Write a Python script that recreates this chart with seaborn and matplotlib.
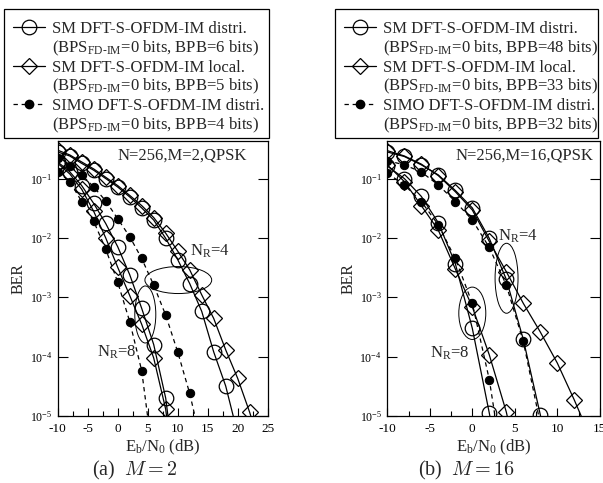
import numpy as np
import pandas as pd
import matplotlib
matplotlib.use("Agg")
import matplotlib.pyplot as plt
import seaborn as sns
from matplotlib.lines import Line2D
from matplotlib.patches import Ellipse, Rectangle
from matplotlib.ticker import MultipleLocator, NullLocator, LogLocator

# ---------------- data (M = 2) ----------------
a_nr4_distri_x = [-10, -8, -6, -4, -2, 0, 2, 4, 6, 8, 10, 12, 14, 16, 18, 20]
a_nr4_distri_y = [2.8e-1, 2.4e-1, 1.8e-1, 1.38e-1, 1.0e-1, 7.2e-2, 4.9e-2, 3.2e-2, 2.0e-2,
                  9.8e-3, 4.3e-3, 1.7e-3, 5.8e-4, 1.2e-4, 3.2e-5, 5.0e-6]
a_nr4_local_x = [-10, -8, -6, -4, -2, 0, 2, 4, 6, 8, 10, 12, 14, 16, 18, 20, 22, 24]
a_nr4_local_y = [3.0e-1, 2.5e-1, 1.9e-1, 1.45e-1, 1.05e-1, 7.6e-2, 5.2e-2, 3.5e-2, 2.2e-2,
                 1.2e-2, 6.0e-3, 2.9e-3, 1.1e-3, 4.4e-4, 1.3e-4, 4.3e-5, 1.15e-5, 2.5e-6]
a_nr4_simo_x = [-10, -8, -6, -4, -2, 0, 2, 4, 6, 8, 10, 12, 14]
a_nr4_simo_y = [2.2e-1, 1.6e-1, 1.15e-1, 7.2e-2, 4.2e-2, 2.1e-2, 1.05e-2, 4.5e-3, 1.6e-3,
                5.0e-4, 1.2e-4, 2.4e-5, 3.2e-6]
a_nr8_distri_x = [-10, -8, -6, -4, -2, 0, 2, 4, 6, 8, 10]
a_nr8_distri_y = [1.9e-1, 1.3e-1, 7.6e-2, 3.8e-2, 1.75e-2, 7.1e-3, 2.4e-3, 6.5e-4, 1.6e-4,
                  2.0e-5, 5.0e-7]
a_nr8_local_x = [-10, -8, -6, -4, -2, 0, 2, 4, 6, 8, 10]
a_nr8_local_y = [1.8e-1, 1.2e-1, 6.6e-2, 2.8e-2, 1.0e-2, 3.2e-3, 1.07e-3, 3.5e-4, 9.5e-5,
                 1.3e-5, 3.0e-7]
a_nr8_simo_x = [-10, -8, -6, -4, -2, 0, 2, 4, 6]
a_nr8_simo_y = [1.3e-1, 8.9e-2, 4.1e-2, 1.9e-2, 6.5e-3, 1.8e-3, 3.9e-4, 5.8e-5, 1.6e-6]

# ---------------- data (M = 16) ----------------
b_nr4_distri_x = [-10, -8, -6, -4, -2, 0, 2, 4, 6, 8, 10]
b_nr4_distri_y = [2.8e-1, 2.35e-1, 1.7e-1, 1.15e-1, 6.3e-2, 3.2e-2, 9.8e-3, 2.0e-3, 1.95e-4,
                  1.05e-5, 3.0e-7]
b_nr4_local_x = [-10, -8, -6, -4, -2, 0, 2, 4, 6, 8, 10, 12, 14]
b_nr4_local_y = [2.95e-1, 2.4e-1, 1.75e-1, 1.12e-1, 6.0e-2, 2.95e-2, 8.7e-3, 2.7e-3, 7.9e-4,
                 2.6e-4, 7.8e-5, 1.86e-5, 4.0e-6]
b_nr4_simo_x = [-10, -8, -6, -4, -2, 0, 2, 4, 6, 8]
b_nr4_simo_y = [2.0e-1, 1.7e-1, 1.29e-1, 7.8e-2, 4.1e-2, 2.0e-2, 6.9e-3, 1.6e-3, 1.8e-4, 7.4e-6]
b_nr8_distri_x = [-10, -8, -6, -4, -2, 0, 2, 4]
b_nr8_distri_y = [1.62e-1, 1.0e-1, 5.0e-2, 1.8e-2, 3.7e-3, 3.0e-4, 1.12e-5, 3.0e-7]
b_nr8_local_x = [-10, -8, -6, -4, -2, 0, 2, 4, 6]
b_nr8_local_y = [1.7e-1, 8.9e-2, 3.5e-2, 1.35e-2, 3.0e-3, 6.9e-4, 1.07e-4, 1.17e-5, 6.0e-7]
b_nr8_simo_x = [-10, -8, -6, -4, -2, 0, 2, 4]
b_nr8_simo_y = [1.23e-1, 7.8e-2, 4.1e-2, 1.66e-2, 4.5e-3, 7.9e-4, 4.1e-5, 6.0e-7]

legend_a = ["SM DFT-S-OFDM-IM distri.", "(BPS$_{\\text{FD-IM}}$=0 bits, BPB=6 bits)",
            "SM DFT-S-OFDM-IM local.", "(BPS$_{\\text{FD-IM}}$=0 bits, BPB=5 bits)",
            "SIMO DFT-S-OFDM-IM distri.", "(BPS$_{\\text{FD-IM}}$=0 bits, BPB=4 bits)"]
legend_b = ["SM DFT-S-OFDM-IM distri.", "(BPS$_{\\text{FD-IM}}$=0 bits, BPB=48 bits)",
            "SM DFT-S-OFDM-IM local.", "(BPS$_{\\text{FD-IM}}$=0 bits, BPB=33 bits)",
            "SIMO DFT-S-OFDM-IM distri.", "(BPS$_{\\text{FD-IM}}$=0 bits, BPB=32 bits)"]

# ---------------- style ----------------
sns.set_style("ticks")
plt.rcParams.update({
    "font.family": ["Liberation Serif", "DejaVu Serif"],
    "mathtext.fontset": "custom",
    "mathtext.rm": "Liberation Serif",
    "mathtext.it": "Liberation Serif:italic",
    "mathtext.bf": "Liberation Serif:bold",
    "axes.unicode_minus": False,
    "axes.edgecolor": "black",
    "axes.linewidth": 0.9,
    "xtick.color": "black",
    "ytick.color": "black",
})

fig = plt.figure(figsize=(6.03, 4.83), dpi=100)
W, H = 603.0, 483.0
ax_a = fig.add_axes([57.7 / W, (H - 416) / H, 210 / W, 275.5 / H])
ax_b = fig.add_axes([387.3 / W, (H - 416) / H, 212.5 / W, 275.5 / H])

LW = 0.9
circle_kw = dict(marker="o", markersize=10.5, markerfacecolor="none", markeredgecolor="black",
                 markeredgewidth=0.9, color="black", linewidth=LW, linestyle="-")
diamond_kw = dict(marker="D", markersize=8.5, markerfacecolor="none", markeredgecolor="black",
                  markeredgewidth=0.9, color="black", linewidth=LW, linestyle="-")
dot_kw = dict(marker="o", markersize=6, markerfacecolor="black", markeredgecolor="black",
              color="black", linewidth=LW, linestyle=(0, (3.5, 3)))


def draw(ax, x, y, kw):
    df = pd.DataFrame({"x": x, "y": y})
    sns.lineplot(data=df, x="x", y="y", ax=ax, errorbar=None, sort=False, legend=False, **kw)


def setup(ax, xmin, xmax):
    ax.set_yscale("log")
    ax.set_xlim(xmin, xmax)
    ax.set_ylim(1e-5, 0.437)
    ax.xaxis.set_major_locator(MultipleLocator(5))
    ax.xaxis.set_minor_locator(MultipleLocator(2.5))
    ax.yaxis.set_major_locator(LogLocator(base=10, numticks=10))
    ax.yaxis.set_minor_locator(NullLocator())
    ax.tick_params(axis="x", which="major", direction="in", length=6, width=0.8,
                   top=False, bottom=True, labelsize=9.5, pad=5)
    ax.tick_params(axis="x", which="minor", direction="in", length=3.5, width=0.8,
                   top=False, bottom=True)
    ax.tick_params(axis="y", which="major", direction="in", length=7, width=0.8,
                   left=True, right=True, labelsize=8.5, pad=4)
    ax.set_xlabel("E$_\\mathrm{b}$/N$_0$ (dB)", fontsize=12, labelpad=2)
    ax.set_ylabel("BER", fontsize=11.5, labelpad=2)
    for s in ax.spines.values():
        s.set_visible(True)
        s.set_color("black")


def ellipse(ax, xd, yd, w, h, angle=0):
    cx, cy = ax.transAxes.inverted().transform(ax.transData.transform((xd, yd)))
    ax.add_patch(Ellipse((cx, cy), w, h, angle=angle, transform=ax.transAxes,
                         fill=False, edgecolor="black", linewidth=0.7, clip_on=False))


def legend(ax, labels, left_px, right_px):
    handles = [Line2D([], [], **circle_kw), Line2D([], [], color="none"),
               Line2D([], [], **diamond_kw), Line2D([], [], color="none"),
               Line2D([], [], **dot_kw), Line2D([], [], color="none")]
    ax.legend(handles, labels, loc="upper left",
              bbox_to_anchor=((left_px + 1.5) / W, 1 - 13.5 / H),
              bbox_transform=fig.transFigure, borderaxespad=0, fontsize=12,
              frameon=False, handlelength=1.9, handletextpad=0.45,
              labelspacing=0.1, borderpad=0.45)
    fig.add_artist(Rectangle((left_px / W, 1 - 137.5 / H), (right_px - left_px) / W,
                             129 / H, transform=fig.transFigure, fill=False,
                             edgecolor="black", linewidth=0.9))


# ---------- panel (a) ----------
draw(ax_a, a_nr4_distri_x, a_nr4_distri_y, circle_kw)
draw(ax_a, a_nr4_local_x, a_nr4_local_y, diamond_kw)
draw(ax_a, a_nr4_simo_x, a_nr4_simo_y, dot_kw)
draw(ax_a, a_nr8_distri_x, a_nr8_distri_y, circle_kw)
draw(ax_a, a_nr8_local_x, a_nr8_local_y, diamond_kw)
draw(ax_a, a_nr8_simo_x, a_nr8_simo_y, dot_kw)
setup(ax_a, -10, 25)
ax_a.text(0.287, 0.947, "N=256,M=2,QPSK", transform=ax_a.transAxes, fontsize=12,
          ha="left", va="center")
ax_a.text(12, 10 ** -2.23, "N$_\\mathrm{R}$=4", fontsize=12, ha="left", va="center")
ax_a.text(-3.5, 10 ** -3.92, "N$_\\mathrm{R}$=8", fontsize=12, ha="left", va="center")
ellipse(ax_a, 10.1, 10 ** -2.71, 0.318, 0.098)
ellipse(ax_a, 4.6, 10 ** -3.29, 0.10, 0.207)
legend(ax_a, legend_a, 4, 269)

# ---------- panel (b) ----------
draw(ax_b, b_nr4_distri_x, b_nr4_distri_y, circle_kw)
draw(ax_b, b_nr4_local_x, b_nr4_local_y, diamond_kw)
draw(ax_b, b_nr4_simo_x, b_nr4_simo_y, dot_kw)
draw(ax_b, b_nr8_distri_x, b_nr8_distri_y, circle_kw)
draw(ax_b, b_nr8_local_x, b_nr8_local_y, diamond_kw)
draw(ax_b, b_nr8_simo_x, b_nr8_simo_y, dot_kw)
setup(ax_b, -10, 15)
ax_b.text(0.319, 0.947, "N=256,M=16,QPSK", transform=ax_b.transAxes, fontsize=12,
          ha="left", va="center")
ax_b.text(3.06, 10 ** -1.98, "N$_\\mathrm{R}$=4", fontsize=12, ha="left", va="center")
ax_b.text(-5.0, 10 ** -3.94, "N$_\\mathrm{R}$=8", fontsize=12, ha="left", va="center")
ellipse(ax_b, 4.03, 10 ** -2.68, 0.108, 0.254)
ellipse(ax_b, 0.0, 10 ** -3.27, 0.127, 0.19)
legend(ax_b, legend_b, 335, 598)

# captions
fig.text(135 / W, 1 - 470 / H, "(a)  $M = 2$", ha="center", va="center", fontsize=14.5,
         math_fontfamily="cm")
fig.text(466.7 / W, 1 - 470 / H, "(b)  $M = 16$", ha="center", va="center", fontsize=14.5,
         math_fontfamily="cm")

fig.savefig("out.png", dpi=100)
